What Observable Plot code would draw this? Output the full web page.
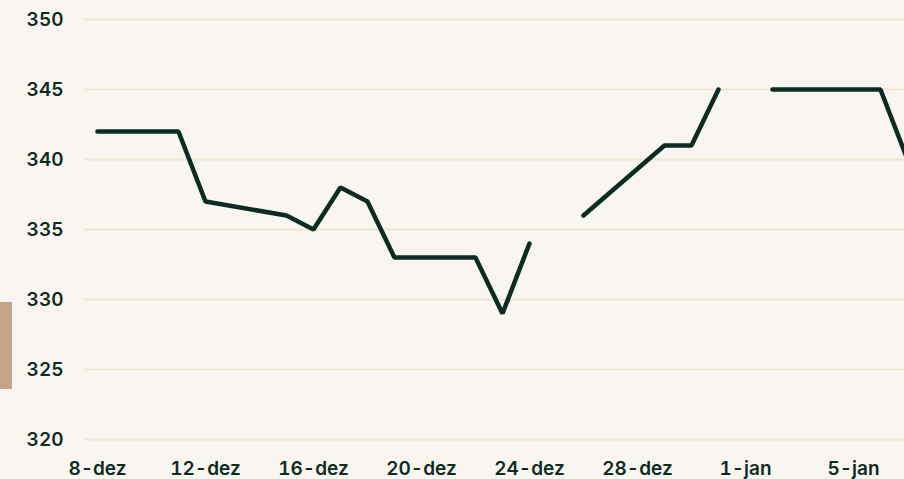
<!DOCTYPE html>
<html>
<head>
<meta charset="utf-8">
<script src="https://cdn.jsdelivr.net/npm/d3@7"></script>
<script src="https://cdn.jsdelivr.net/npm/@observablehq/plot@0.6"></script>
<style>
  html, body { margin: 0; padding: 0; background: #f9f6f1; overflow: hidden; }
  #wrap { position: relative; width: 904px; height: 479px; }
  #tab { position: absolute; left: 0; top: 302px; width: 12px; height: 87px; background: #c4a586; }
</style>
</head>
<body>
<div id="wrap"><div id="tab"></div></div>
<script>
// Dates (trading days; null = no value / gap)
const dates = [
  "2025-12-08","2025-12-09","2025-12-10","2025-12-11","2025-12-12",
  "2025-12-15","2025-12-16","2025-12-17","2025-12-18","2025-12-19",
  "2025-12-22","2025-12-23","2025-12-24","2025-12-25","2025-12-26",
  "2025-12-29","2025-12-30","2025-12-31","2026-01-01","2026-01-02",
  "2026-01-05","2026-01-06","2026-01-07"
];
const values = [
  342, 342, 342, 342, 337,
  336, 335, 338, 337, 333,
  333, 329, 334, null, 336,
  341, 341, 345, null, 345,
  345, 345, 340
];
const tickDates = ["2025-12-08","2025-12-12","2025-12-16","2025-12-20","2025-12-24","2025-12-28","2026-01-01","2026-01-05"];
const tickLabels = ["8-dez","12-dez","16-dez","20-dez","24-dez","28-dez","1-jan","5-jan"];
const yTicks = [320, 325, 330, 335, 340, 345, 350];

const parse = s => new Date(s + "T00:00:00Z");
const data = dates.map((d, i) => ({date: parse(d), value: values[i]}));
const ticks = tickDates.map(parse);
const labelOf = new Map(ticks.map((t, i) => [+t, tickLabels[i]]));
const day = 864e5;
const x0 = parse(dates[0]);

const chart = Plot.plot({
  width: 904,
  height: 479,
  marginTop: 19,
  marginBottom: 40,
  marginLeft: 84,
  marginRight: 0,
  style: {background: "#f9f6f1", fontFamily: "Inter, sans-serif", fontSize: "19px", fontWeight: 600, color: "#0d2b23"},
  x: {type: "utc", domain: [new Date(+x0 - 0.48 * day), new Date(+x0 + 29.89 * day)], ticks: ticks, tickFormat: d => labelOf.get(+d), tickSize: 0, tickPadding: 22, label: null},
  y: {domain: [320, 350], ticks: yTicks, tickSize: 0, tickPadding: 21, label: null},
  marks: [
    Plot.ruleY(yTicks, {stroke: "#efe3d5", strokeWidth: 2}),
    Plot.axisX({ticks: ticks, tickFormat: d => labelOf.get(+d), tickSize: 0, tickPadding: 22, fill: "#0d2b23"}),
    Plot.axisY({ticks: yTicks, tickSize: 0, tickPadding: 21, fill: "#0d2b23"}),
    Plot.line(data, {x: "date", y: "value", stroke: "#0c2b22", strokeWidth: 4.5, strokeLinecap: "round", strokeLinejoin: "miter", clip: true})
  ]
});
document.getElementById("wrap").prepend(chart);
</script>
</body>
</html>
